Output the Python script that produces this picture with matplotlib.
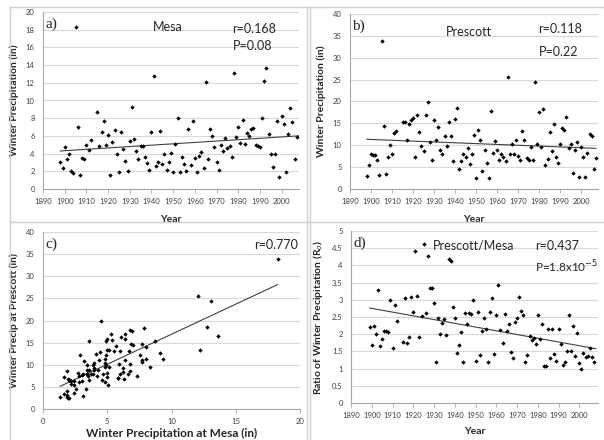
import numpy as np
import matplotlib
matplotlib.use("Agg")
import matplotlib.pyplot as plt
from matplotlib.lines import Line2D

# years with data (1913, 1914 missing)
years = list(range(1898, 1913)) + list(range(1915, 2008))

mesa = [3.1, 2.4, 4.7, 3.4, 3.9, 2.0, 1.85, 18.25, 7.0, 1.6, 3.5, 3.4, 5.0, 4.4, 5.5,
        8.7, 4.9, 6.4, 7.7, 5.0, 6.1, 1.6, 5.3, 6.7, 3.9, 1.9, 6.4, 4.5, 3.2, 2.0,
        5.4, 9.3, 5.7, 4.3, 3.4, 4.9, 4.9, 3.6, 2.9, 2.2, 6.4, 12.8, 2.6, 3.0, 6.6,
        2.8, 4.0, 2.2, 3.1, 4.1, 1.95, 5.1, 8.0, 1.9, 3.6, 2.8, 2.0, 6.75, 2.7, 7.7,
        3.45, 1.95, 3.75, 4.2, 2.4, 12.1, 3.4, 6.8, 6.0, 4.8, 3.05, 2.1, 4.95, 4.35, 5.8,
        4.6, 4.85, 3.6, 13.1, 5.9, 6.95, 5.15, 7.85, 5.05, 6.3, 6.0, 6.75, 6.85, 4.95, 4.85,
        4.8, 8.05, 12.25, 13.65, 6.25, 4.0, 2.45, 3.95, 7.7, 1.35, 8.3, 7.35, 1.9, 6.2, 9.1,
        7.55, 3.35, 5.85]

prescott = [3.0, 5.5, 8.0, 7.8, 7.8, 6.6, 3.1, 33.9, 14.5, 3.5, 7.4, 10.0, 8.1, 12.8, 13.2,
            15.3, 15.3, 11.1, 14.8, 15.8, 16.2, 7.2, 17.0, 13.0, 9.9, 8.7, 17.0, 19.9, 10.8, 6.6,
            15.7, 11.3, 14.2, 8.8, 7.9, 12.2, 9.9, 15.3, 12.2, 6.3, 15.9, 18.6, 4.5, 6.3, 8.0,
            7.4, 9.3, 5.7, 7.9, 12.4, 2.4, 13.4, 11.3, 4.0, 8.9, 6.0, 2.4, 17.9, 8.2, 11.0,
            8.8, 6.7, 8.0, 7.4, 6.3, 25.5, 7.9, 10.2, 7.9, 11.3, 7.6, 6.6, 13.3, 11.1, 7.1,
            6.6, 9.6, 6.6, 24.5, 10.2, 17.7, 9.6, 18.2, 5.5, 6.8, 13.0, 8.7, 14.8, 7.2, 6.0,
            10.3, 14.0, 13.4, 16.4, 9.3, 10.3, 3.7, 8.9, 10.7, 2.8, 9.6, 7.4, 2.8, 8.3, 12.6,
            12.1, 4.5, 7.1]

ratio_years = years[1:]
ratio = [2.2, 1.7, 2.25, 2.0, 3.28, 1.65, 1.87, 2.08, 2.1, 2.05, 2.98, 1.6, 2.85, 2.37,
         1.77, 3.05, 1.75, 1.92, 3.08, 2.65, 4.42, 3.12, 1.92, 2.53, 4.62, 2.63, 4.26, 3.35, 3.35,
         2.9, 1.2, 2.47, 2.02, 2.33, 2.45, 1.98, 4.2, 4.14, 2.78, 2.47, 1.45, 1.7, 2.07, 1.2,
         2.62, 2.3, 2.63, 2.58, 2.98, 1.23, 2.64, 1.4, 2.08, 2.48, 2.14, 1.2, 2.65, 3.04, 1.43,
         2.56, 3.42, 2.12, 1.75, 2.6, 2.1, 2.3, 1.49, 1.3, 2.35, 2.48, 3.08, 2.68, 2.55, 1.2,
         1.4, 1.96, 1.82, 1.88, 1.72, 2.55, 1.86, 2.3, 1.07, 1.07, 2.16, 1.3, 2.15, 1.43, 1.22,
         2.15, 1.72, 1.1, 1.2, 1.5, 2.57, 1.5, 2.25, 1.38, 2.03, 1.15, 0.99, 1.44, 1.35, 1.38,
         1.6, 1.35, 1.2]

W, H = 604, 440
fig = plt.figure(figsize=(W / 100, H / 100), dpi=100)
plt.rcParams['font.family'] = ['Lato', 'DejaVu Sans']

GRID = "#d9d9d9"
AX = "#a6a6a6"


def make_ax(l, t, r, b):
    return fig.add_axes([l / W, 1 - b / H, (r - l) / W, (b - t) / H])


def style(ax):
    for s in ["top", "right"]:
        ax.spines[s].set_visible(False)
    ax.spines["left"].set_color(AX)
    ax.spines["bottom"].set_color(AX)
    ax.spines["left"].set_linewidth(0.8)
    ax.spines["bottom"].set_linewidth(0.8)
    ax.grid(axis="y", color=GRID, linewidth=0.8)
    ax.set_axisbelow(True)
    ax.tick_params(axis="both", labelsize=5.5, colors=AX, labelcolor="#404040",
                   length=3, width=0.6, direction="out")
    ax.tick_params(axis="y", length=0, pad=6)


def trend(ax, x, y, x0, x1):
    k, c = np.polyfit(x, y, 1)
    xs = np.array([x0, x1])
    ax.plot(xs, k * xs + c, color="#404040", linewidth=0.8, zorder=2)


def dots(ax, x, y):
    ax.scatter(x, y, marker="D", s=5, color="black", linewidths=0, zorder=3)


year_ticks = list(range(1890, 2001, 10))
lab_kw = dict(fontsize=7.5, fontweight="bold", color="#262626")
txt_kw = dict(fontsize=9, color="#262626")
let_kw = dict(fontsize=11, family="Liberation Serif", va="top", color="#262626")

# a) Mesa
ax = make_ax(43, 12, 299, 189)
style(ax)
dots(ax, years, mesa)
trend(ax, years, mesa, 1898, 2008)
ax.set_xlim(1890, 2008)
ax.set_ylim(0, 20)
ax.set_yticks(range(0, 21, 2))
ax.set_xticks(year_ticks)
ax.set_ylabel("Winter Precipitation (in)", labelpad=5, **lab_kw)
ax.set_xlabel("Year", labelpad=7, **lab_kw)
ax.text(0.01, 0.97, "a)", transform=ax.transAxes, **let_kw)
ax.text(0.43, 0.95, "Mesa", transform=ax.transAxes, va="top", **txt_kw)
ax.text(0.74, 0.94, "r=0.168", transform=ax.transAxes, va="top", **txt_kw)
ax.text(0.74, 0.84, "P=0.08", transform=ax.transAxes, va="top", **txt_kw)

# b) Prescott
ax = make_ax(350, 14, 598, 189)
style(ax)
dots(ax, years, prescott)
trend(ax, years, prescott, 1898, 2007)
ax.set_xlim(1890, 2008)
ax.set_ylim(0, 40)
ax.set_yticks(range(0, 41, 5))
ax.set_xticks(year_ticks)
ax.set_ylabel("Winter Precipitation (in)", labelpad=5, **lab_kw)
ax.set_xlabel("Year", labelpad=7, **lab_kw)
ax.text(0.01, 0.97, "b)", transform=ax.transAxes, **let_kw)
ax.text(0.385, 0.93, "Prescott", transform=ax.transAxes, va="top", **txt_kw)
ax.text(0.76, 0.95, "r=0.118", transform=ax.transAxes, va="top", **txt_kw)
ax.text(0.76, 0.82, "P=0.22", transform=ax.transAxes, va="top", **txt_kw)

# c) Prescott vs Mesa
ax = make_ax(43, 232, 300, 409)
style(ax)
dots(ax, mesa, prescott)
trend(ax, mesa, prescott, min(mesa), max(mesa))
ax.set_xlim(0, 20)
ax.set_ylim(0, 40)
ax.set_yticks(range(0, 41, 5))
ax.set_xticks(range(0, 21, 5))
ax.set_ylabel("Winter Precip at Prescott (in)", labelpad=5, **lab_kw)
ax.set_xlabel("Winter Precipitation at Mesa (in)", labelpad=2, fontsize=8.5,
              fontweight="bold", color="#262626")
ax.text(0.01, 0.97, "c)", transform=ax.transAxes, **let_kw)
ax.text(0.82, 0.96, "r=0.770", transform=ax.transAxes, va="top", **txt_kw)

# d) ratio
ax = make_ax(351, 231, 598, 403)
style(ax)
dots(ax, ratio_years, ratio)
trend(ax, ratio_years, ratio, 1899, 2008)
ax.set_xlim(1890, 2009)
ax.set_ylim(0, 5)
ax.set_yticks(np.arange(0, 5.01, 0.5))
ax.set_yticklabels(["0", "0.5", "1", "1.5", "2", "2.5", "3", "3.5", "4", "4.5", "5"])
ax.set_xticks(year_ticks)
ax.set_ylabel("Ratio of Winter Precipitation (R$_o$)", labelpad=5, **lab_kw)
ax.set_xlabel("Year", labelpad=6, **lab_kw)
ax.text(0.01, 0.97, "d)", transform=ax.transAxes, **let_kw)
ax.text(0.33, 0.95, "Prescott/Mesa", transform=ax.transAxes, va="top", **txt_kw)
ax.text(0.745, 0.95, "r=0.437", transform=ax.transAxes, va="top", **txt_kw)
ax.text(0.745, 0.84, "P=1.8x10$^{-5}$", transform=ax.transAxes, va="top",
        fontsize=8.5, color="#262626")

# panel borders
for x in [10, 307, 310]:
    fig.add_artist(Line2D([x / W, x / W], [0, 1 - 7 / H], color="#d0d0d0", linewidth=1))
for y in [7, 222]:
    fig.add_artist(Line2D([10 / W, 1], [1 - y / H, 1 - y / H], color="#d0d0d0", linewidth=1))

fig.savefig("out.png", dpi=100)
